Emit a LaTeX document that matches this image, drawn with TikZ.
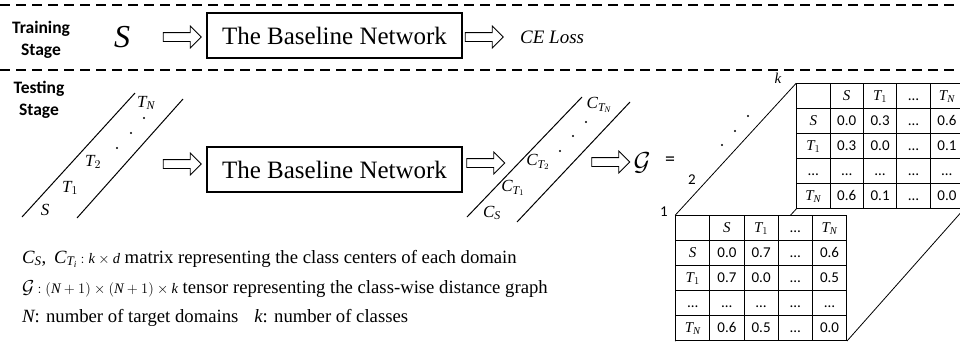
\RequirePackage{fix-cm}
\documentclass[tikz,border=0pt]{standalone}
\usepackage{amsmath}
\usepackage{amssymb}
\usepackage{fontspec}
\setmainfont{Liberation Serif}
\newfontfamily\calib{Carlito}
\DeclareSymbolFont{letters}{TU}{\rmdefault}{m}{it}
\usepackage{tikz}
\usetikzlibrary{shapes.arrows,matrix,backgrounds,positioning}

\tikzset{
  stage/.style={font=\calib\bfseries\fontsize{17.5}{22}\selectfont, align=center},
  netbox/.style={draw, line width=1.3pt, minimum width=255pt, minimum height=45pt,
    inner sep=0pt, font=\fontsize{25}{30}\selectfont},
  hollow/.style={single arrow, draw, line width=0.8pt, minimum height=38pt,
    inner sep=4pt, single arrow head extend=6.5pt},
  sepline/.style={dash pattern=on 10pt off 6pt, line width=1.3pt},
  lbl/.style={inner sep=0pt, font=\fontsize{17}{17}\selectfont},
  leg/.style={anchor=base west, inner sep=0pt, font=\fontsize{18.7}{24}\selectfont},
  tbl/.style={matrix of nodes, nodes in empty cells, inner sep=0pt,
    column sep=-0.8pt, row sep=-0.8pt, anchor=north west,
    nodes={draw, fill=white, line width=0.8pt, minimum height=25pt, inner sep=0pt,
      text height=11pt, text depth=3pt,
      anchor=center, font=\calib\fontsize{15}{15}\selectfont}},
}

\begin{document}
\begin{tikzpicture}[x=1pt,y=-1pt]
\useasboundingbox (0,0) rectangle (960,341);
\draw[sepline] (0,5) -- (960,5);
\draw[sepline] (0,70) -- (960,70);

% training stage
\node[stage] (train) at (41,40) {Training\\Stage};
\node (src) at (122,37) {\fontsize{32}{32}\selectfont$S$};
\node[hollow] (arr1) at (180,37) {};
\node[netbox] (net1) at (334.5,35.5) {The Baseline Network};
\node[hollow] (arr2) at (482,37) {};
\node[anchor=west, inner sep=0pt, font=\fontsize{19}{19}\selectfont] (loss) at (520,37) {$CE\ Loss$};

% testing stage
\node[stage] (test) at (39,100) {Testing\\Stage};
\draw[line width=1pt] (22,217) -- (135,93);
\draw[line width=1pt] (77,218) -- (183,99);
\node[lbl] (d0) at (45,210) {$S$};
\node[lbl] (d1) at (70,188) {$T_1$};
\node[lbl] (d2) at (93,162) {$T_2$};
\node[lbl] (dn) at (146,103) {$T_N$};
\fill (117,148) circle (1.2pt) (131,133) circle (1.2pt) (144,118) circle (1.2pt);

\node[hollow] (arr3) at (180,164) {};
\node[netbox] (net2) at (334.5,169.5) {The Baseline Network};
\node[hollow] (arr4) at (483.5,163) {};

\draw[line width=1pt] (467,217) -- (582,97);
\draw[line width=1pt] (517,222) -- (630,102);
\node[lbl] (c0) at (492,213) {$C_S$};
\node[lbl] (c1) at (513,188) {$C_{T_1}$};
\node[lbl] (c2) at (538,162) {$C_{T_2}$};
\node[lbl] (cn) at (599,105) {$C_{T_N}$};
\fill (560,151) circle (1.2pt) (573,136) circle (1.2pt) (586,122) circle (1.2pt);

\node[hollow] (arr5) at (608.5,162) {};
\node (graph) at (642,163) {\fontsize{26}{26}\selectfont$\mathcal{G}$};
\node[font=\calib\fontsize{20}{20}\selectfont] (eq) at (670,161) {=};

% class-wise distance graph
\matrix (back) [tbl, nodes={minimum width=33.4pt}] at (796,83) {
       & $S$ & $T_1$ & … & $T_N$ \\
  $S$   & 0.0 & 0.3 & … & 0.6 \\
  $T_1$ & 0.3 & 0.0 & … & 0.1 \\
  …     & …   & …   & … & …   \\
  $T_N$ & 0.6 & 0.1 & … & 0.0 \\
};
\matrix (front) [tbl, nodes={minimum width=34.2pt}] at (675,215) {
       & $S$ & $T_1$ & … & $T_N$ \\
  $S$   & 0.0 & 0.7 & … & 0.6 \\
  $T_1$ & 0.7 & 0.0 & … & 0.5 \\
  …     & …   & …   & … & …   \\
  $T_N$ & 0.6 & 0.5 & … & 0.0 \\
};
\begin{scope}[on background layer]
\draw[line width=0.8pt] (front-1-1.north west) -- (back-1-1.north west);
\draw[line width=0.8pt] (front-5-1.south west) -- (back-5-1.south west);
\draw[line width=0.8pt] (front-5-5.south east) -- (back-5-5.south east);
\end{scope}
\node[font=\calib\fontsize{15}{15}\selectfont] (n1) at (664,212) {1};
\node[font=\calib\fontsize{15}{15}\selectfont] (n2) at (692,180) {2};
\node[font=\fontsize{15}{15}\selectfont] (nk) at (778,78) {$k$};
\fill (722,145) circle (1.2pt) (735,131) circle (1.2pt) (748,116) circle (1.2pt);

% legend
\node[leg] (leg1) at (22,263) {$C_S$,\ \,$C_{T_i}$\,{\fontsize{14.5}{14.5}\selectfont$: k\times d$}\ matrix representing the class centers of each domain};
\node[leg] (leg2) at (22,293) {$\mathcal{G}$\,{\fontsize{14.5}{14.5}\selectfont$:(N+1)\times(N+1)\times k$}\ tensor representing the class-wise distance graph};
\node[leg] (leg3) at (22,322) {$N$: number of target domains\hspace{16pt}$k$: number of classes};
\end{tikzpicture}
\end{document}
